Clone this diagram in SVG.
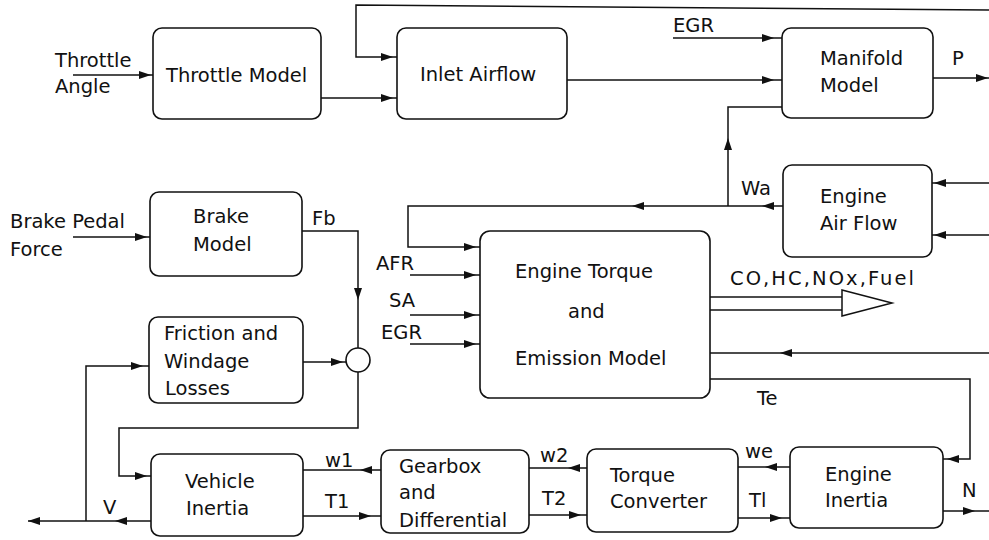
<svg xmlns="http://www.w3.org/2000/svg" xmlns:xlink="http://www.w3.org/1999/xlink" width="989" height="540" viewBox="0 0 989 540">
<style>
  .box { fill: #fff; stroke: #111; stroke-width: 1.6; }
  .ln { fill: none; stroke: #111; stroke-width: 1.5; }
  text { font-family: "DejaVu Sans", "Liberation Sans", sans-serif; font-size: 19.5px; fill: #111; }
  .ah { fill: #111; }
</style>
<defs>
  <path id="ah" d="M0,0 L-12,-4 L-12,4 Z"/>
</defs>
<rect width="989" height="540" fill="#fff"/>

<g id="connectors">
  <polyline class="ln" points="989,10 356,5 356,57 397,57"/>
  <line class="ln" x1="73" y1="75" x2="153" y2="75"/>
  <line class="ln" x1="321" y1="98" x2="397" y2="98"/>
  <line class="ln" x1="673" y1="38" x2="782" y2="38"/>
  <line class="ln" x1="567" y1="80" x2="782" y2="80"/>
  <line class="ln" x1="933" y1="78" x2="989" y2="78"/>
  <polyline class="ln" points="728,206 728,107 782,107"/>
  <line class="ln" x1="989" y1="183" x2="932" y2="183"/>
  <line class="ln" x1="989" y1="235" x2="932" y2="235"/>
  <polyline class="ln" points="783,206 408,206 408,247 480,247"/>
  <line class="ln" x1="410" y1="275" x2="480" y2="275"/>
  <line class="ln" x1="410" y1="315" x2="480" y2="315"/>
  <line class="ln" x1="410" y1="344" x2="480" y2="344"/>
  <line class="ln" x1="710" y1="297" x2="842" y2="297"/>
  <line class="ln" x1="710" y1="310" x2="842" y2="310"/>
  <polygon class="ln" points="842,290 842,316 892,303" style="fill:#fff"/>
  <line class="ln" x1="989" y1="353" x2="710" y2="353"/>
  <polyline class="ln" points="710,379 970,379 970,459 943,459"/>
  <line class="ln" x1="943" y1="511" x2="989" y2="511"/>
  <line class="ln" x1="790" y1="467" x2="738" y2="467"/>
  <line class="ln" x1="738" y1="518" x2="790" y2="518"/>
  <line class="ln" x1="587" y1="468" x2="529" y2="468"/>
  <line class="ln" x1="529" y1="515" x2="587" y2="515"/>
  <line class="ln" x1="381" y1="470" x2="303" y2="470"/>
  <line class="ln" x1="303" y1="516" x2="381" y2="516"/>
  <line class="ln" x1="151" y1="521" x2="28" y2="521"/>
  <polyline class="ln" points="86,521 86,366 149,366"/>
  <line class="ln" x1="73" y1="237" x2="150" y2="237"/>
  <polyline class="ln" points="302,231 358,231 358,348"/>
  <line class="ln" x1="303" y1="362" x2="346" y2="362"/>
  <polyline class="ln" points="358,372 358,428 119,428 119,476 151,476"/>

  <use xlink:href="#ah" class="ah" transform="translate(151,75)"/>
  <use xlink:href="#ah" class="ah" transform="translate(393,98)"/>
  <use xlink:href="#ah" class="ah" transform="translate(393,57)"/>
  <use xlink:href="#ah" class="ah" transform="translate(774,38)"/>
  <use xlink:href="#ah" class="ah" transform="translate(774,80)"/>
  <use xlink:href="#ah" class="ah" transform="translate(728,138) rotate(-90)"/>
  <use xlink:href="#ah" class="ah" transform="translate(988,78)"/>
  <use xlink:href="#ah" class="ah" transform="translate(934,183) rotate(180)"/>
  <use xlink:href="#ah" class="ah" transform="translate(934,235) rotate(180)"/>
  <use xlink:href="#ah" class="ah" transform="translate(762,206) rotate(180)"/>
  <use xlink:href="#ah" class="ah" transform="translate(632,206) rotate(180)"/>
  <use xlink:href="#ah" class="ah" transform="translate(476,247)"/>
  <use xlink:href="#ah" class="ah" transform="translate(476,275)"/>
  <use xlink:href="#ah" class="ah" transform="translate(476,315)"/>
  <use xlink:href="#ah" class="ah" transform="translate(476,344)"/>
  <use xlink:href="#ah" class="ah" transform="translate(780,353) rotate(180)"/>
  <use xlink:href="#ah" class="ah" transform="translate(947,459) rotate(180)"/>
  <use xlink:href="#ah" class="ah" transform="translate(975,511)"/>
  <use xlink:href="#ah" class="ah" transform="translate(765,467) rotate(180)"/>
  <use xlink:href="#ah" class="ah" transform="translate(782,518)"/>
  <use xlink:href="#ah" class="ah" transform="translate(568,468) rotate(180)"/>
  <use xlink:href="#ah" class="ah" transform="translate(581,515)"/>
  <use xlink:href="#ah" class="ah" transform="translate(360,470) rotate(180)"/>
  <use xlink:href="#ah" class="ah" transform="translate(371,516)"/>
  <use xlink:href="#ah" class="ah" transform="translate(115,521) rotate(180)"/>
  <use xlink:href="#ah" class="ah" transform="translate(28,521) rotate(180)"/>
  <use xlink:href="#ah" class="ah" transform="translate(143,366)"/>
  <use xlink:href="#ah" class="ah" transform="translate(147,476)"/>
  <use xlink:href="#ah" class="ah" transform="translate(147,237)"/>
  <use xlink:href="#ah" class="ah" transform="translate(343,362)"/>
  <use xlink:href="#ah" class="ah" transform="translate(358,300) rotate(90)"/>
</g>

<g id="labels">
  <text x="55" y="67">Throttle</text>
  <text x="55" y="93">Angle</text>
  <text x="673" y="32">EGR</text>
  <text x="952" y="65">P</text>
  <text x="741" y="195">Wa</text>
  <text x="10" y="228">Brake Pedal</text>
  <text x="10" y="256">Force</text>
  <text x="312" y="225">Fb</text>
  <text x="376" y="270">AFR</text>
  <text x="389" y="307">SA</text>
  <text x="381" y="339">EGR</text>
  <text x="730" y="285" textLength="184" lengthAdjust="spacing">CO,HC,NOx,Fuel</text>
  <text x="757" y="405">Te</text>
  <text x="745" y="458">we</text>
  <text x="749" y="507">Tl</text>
  <text x="962" y="497">N</text>
  <text x="540" y="462">w2</text>
  <text x="542" y="505">T2</text>
  <text x="325" y="467">w1</text>
  <text x="325" y="508">T1</text>
  <text x="103" y="514">V</text>
</g>

<g id="throttle-model">
  <rect class="box" x="153" y="28" width="168" height="91" rx="9"/>
  <text x="166" y="82">Throttle Model</text>
</g>
<g id="inlet-airflow">
  <rect class="box" x="397" y="28" width="170" height="91" rx="9"/>
  <text x="420" y="81">Inlet Airflow</text>
</g>
<g id="manifold-model">
  <rect class="box" x="782" y="28" width="151" height="90" rx="9"/>
  <text x="820" y="65">Manifold</text>
  <text x="820" y="92">Model</text>
</g>
<g id="engine-air-flow">
  <rect class="box" x="783" y="165" width="149" height="92" rx="9"/>
  <text x="820" y="203">Engine</text>
  <text x="820" y="230">Air Flow</text>
</g>
<g id="brake-model">
  <rect class="box" x="150" y="192" width="152" height="84" rx="9"/>
  <text x="193" y="223">Brake</text>
  <text x="193" y="251">Model</text>
</g>
<g id="friction-windage">
  <rect class="box" x="149" y="317" width="154" height="86" rx="9"/>
  <text x="164" y="340">Friction and</text>
  <text x="164" y="368">Windage</text>
  <text x="165" y="395">Losses</text>
</g>
<g id="summing-junction">
  <circle class="box" cx="358" cy="360" r="12"/>
</g>
<g id="engine-torque-emission">
  <rect class="box" x="480" y="231" width="230" height="167" rx="10"/>
  <text x="515" y="278">Engine Torque</text>
  <text x="568" y="318">and</text>
  <text x="515" y="365">Emission Model</text>
</g>
<g id="vehicle-inertia">
  <rect class="box" x="151" y="454" width="152" height="82" rx="9"/>
  <text x="185" y="488">Vehicle</text>
  <text x="186" y="515">Inertia</text>
</g>
<g id="gearbox-differential">
  <rect class="box" x="381" y="450" width="148" height="83" rx="9"/>
  <text x="399" y="473">Gearbox</text>
  <text x="399" y="499">and</text>
  <text x="399" y="527">Differential</text>
</g>
<g id="torque-converter">
  <rect class="box" x="587" y="449" width="151" height="83" rx="9"/>
  <text x="610" y="482">Torque</text>
  <text x="610" y="508">Converter</text>
</g>
<g id="engine-inertia">
  <rect class="box" x="790" y="447" width="153" height="81" rx="9"/>
  <text x="825" y="481">Engine</text>
  <text x="825" y="507">Inertia</text>
</g>
</svg>
